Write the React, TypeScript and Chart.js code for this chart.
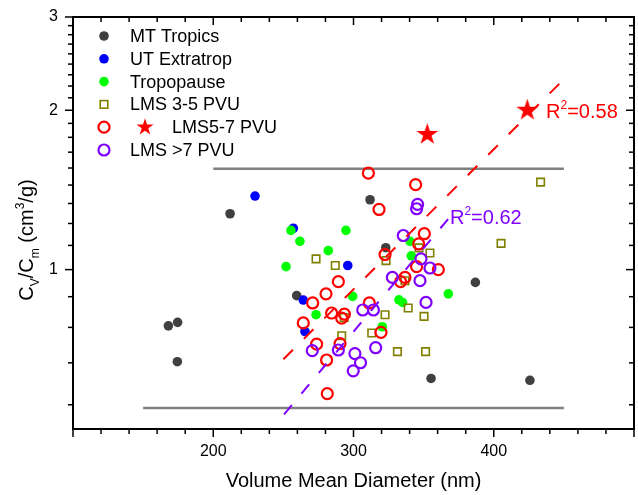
import React, { useEffect, useRef } from 'react';
import { Chart, registerables } from 'chart.js';

Chart.register(...registerables);

const FONT = '"Liberation Sans", Arial, Helvetica, sans-serif';

// ---------------- data ----------------
const mtTropicsX = [168, 174.6, 174.4, 212, 259.5, 311.8, 323, 355.3, 386.9, 425.8];
const mtTropicsY = [0.783, 0.795, 0.67, 1.275, 0.893, 1.355, 1.1, 0.623, 0.946, 0.618];

const utExtraX = [229.8, 257.1, 295.9, 264.2, 265.4];
const utExtraY = [1.377, 1.197, 1.018, 0.876, 0.764];

const tropoX = [255.4, 261.8, 251.9, 282, 294.6, 340.3, 341.2, 367.6, 299.4, 332.4, 335, 320.5, 273.3];
const tropoY = [1.186, 1.131, 1.013, 1.086, 1.186, 1.131, 1.062, 0.9, 0.89, 0.877, 0.867, 0.78, 0.822];

const lms35X = [273.3, 287, 323.2, 346.7, 354.5, 336.7, 433.4, 405.2, 339, 350.3, 322.5, 293.4, 291.6, 313, 331.3, 351.4];
const lms35Y = [1.048, 1.018, 1.04, 1.099, 1.075, 0.953, 1.463, 1.121, 0.846, 0.816, 0.822, 0.812, 0.75, 0.759, 0.7, 0.7];

const lms57X = [310.6, 344.3, 318.2, 350.5, 346.5, 322.5, 345, 360.5, 336.7, 333.6, 289.2, 280.4, 270.9, 311.3, 284.4, 293.5, 291.6, 264.2, 273.7, 290.4, 280.8, 319.6, 281.3];
const lms57Y = [1.522, 1.447, 1.299, 1.169, 1.118, 1.068, 1.013, 1.0, 0.967, 0.949, 0.949, 0.9, 0.865, 0.865, 0.828, 0.824, 0.81, 0.793, 0.723, 0.725, 0.675, 0.761, 0.583];

const lms57StarX = [352.6, 423.9];
const lms57StarY = [1.8, 2.0];

const lms7X = [345.7, 345, 335.5, 348.1, 354.5, 327.7, 347.4, 351.7, 306.6, 314.2, 315.8, 289.2, 301, 305, 299.8, 270.6];
const lms7Y = [1.328, 1.303, 1.16, 1.048, 1.007, 0.967, 0.953, 0.867, 0.839, 0.839, 0.712, 0.705, 0.694, 0.667, 0.644, 0.703];

// fit lines (end points)
const fit57X = [250, 447];
const fit57Y = [0.677, 2.247];
const fit7X = [250.5, 368];
const fit7Y = [0.533, 1.251];

// grey reference lines
const refUpperX = [200, 450];
const refUpperY = [1.55, 1.55];
const refLowerX = [150, 450];
const refLowerY = [0.548, 0.548];

// fit annotations: [x, y(baseline), text value]
const r2Labels = [
  { x: 437.3, y: 1.932, text: '=0.58', color: '#ff0000' },
  { x: 368.8, y: 1.222, text: '=0.62', color: '#7f00ff' },
];

const seriesNames = ['MT Tropics', 'UT Extratrop', 'Tropopause', 'LMS 3-5 PVU', 'LMS5-7 PVU', 'LMS >7 PVU'];

// ticks
const xTickValues = [100, 120, 140, 160, 180, 200, 220, 240, 260, 280, 300, 320, 340, 360, 380, 400, 420, 440, 460, 480, 500];
const xTickLabels = [200, 300, 400];
const yMajorTicks = [1, 2, 3];
const yMinorTicks = [5 / 9, 6 / 9, 7 / 9, 8 / 9, 10 / 9, 11 / 9, 12 / 9, 13 / 9, 14 / 9, 15 / 9, 16 / 9, 17 / 9,
  19 / 9, 20 / 9, 21 / 9, 22 / 9, 23 / 9, 24 / 9, 25 / 9, 26 / 9];

const toPts = (xs: number[], ys: number[]) => xs.map((x, i) => ({ x, y: ys[i] }));

const C_DARK = '#404040';
const C_BLUE = '#0000ff';
const C_GREEN = '#00ff00';
const C_OLIVE = '#808000';
const C_RED = '#ff0000';
const C_PURPLE = '#7f00ff';

function starPath(ctx: CanvasRenderingContext2D, cx: number, cy: number, R: number) {
  ctx.beginPath();
  for (let i = 0; i < 10; i++) {
    const r = i % 2 === 0 ? R : R * 0.382;
    const a = -Math.PI / 2 + (i * Math.PI) / 5;
    const px = cx + r * Math.cos(a);
    const py = cy + r * Math.sin(a);
    if (i === 0) ctx.moveTo(px, py);
    else ctx.lineTo(px, py);
  }
  ctx.closePath();
}

function makeStar(R: number, color: string) {
  const c = document.createElement('canvas');
  const s = Math.ceil(R * 2 + 2);
  c.width = s;
  c.height = s;
  const g = c.getContext('2d')!;
  starPath(g, s / 2, s / 2, R);
  g.fillStyle = color;
  g.fill();
  return c;
}

const decorPlugin = {
  id: 'decor',
  afterDraw(chart: any) {
    const { ctx, chartArea: a, scales } = chart;
    const xs = scales.x;
    const ys = scales.y;
    ctx.save();
    ctx.strokeStyle = '#000';
    ctx.lineWidth = 1.5;
    const line = (x1: number, y1: number, x2: number, y2: number) => {
      ctx.beginPath();
      ctx.moveTo(x1, y1);
      ctx.lineTo(x2, y2);
      ctx.stroke();
    };
    for (const v of xTickValues) {
      const px = xs.getPixelForValue(v);
      const L = v % 100 === 0 ? 8 : 5;
      line(px, a.bottom, px, a.bottom + L);
      line(px, a.top, px, a.top + L);
    }
    const yAll = [...yMajorTicks.map((v) => [v, 8]), ...yMinorTicks.map((v) => [v, 5])];
    for (const [v, L] of yAll) {
      const py = ys.getPixelForValue(v);
      line(a.left - L, py, a.left, py);
      line(a.right - L, py, a.right, py);
    }
    ctx.lineWidth = 2;
    ctx.strokeRect(a.left, a.top, a.right - a.left, a.bottom - a.top);

    // legend
    const lx = a.left + 31;
    const tx = a.left + 57;
    const ly0 = a.top + 19;
    const dy = 22.8;
    ctx.font = `18px ${FONT}`;
    ctx.textBaseline = 'middle';
    ctx.textAlign = 'left';
    ctx.fillStyle = '#000';
    seriesNames.forEach((name, i) => {
      const y = ly0 + i * dy;
      if (i <= 2) {
        ctx.beginPath();
        ctx.arc(lx, y, 4.8, 0, Math.PI * 2);
        ctx.fillStyle = [C_DARK, C_BLUE, C_GREEN][i];
        ctx.fill();
      } else if (i === 3) {
        ctx.strokeStyle = C_OLIVE;
        ctx.lineWidth = 1.6;
        ctx.strokeRect(lx - 3.8, y - 3.8, 7.6, 7.6);
      } else {
        ctx.beginPath();
        ctx.arc(lx, y, 5.5, 0, Math.PI * 2);
        ctx.strokeStyle = i === 4 ? C_RED : C_PURPLE;
        ctx.lineWidth = 2.2;
        ctx.stroke();
      }
      let textX = tx;
      if (i === 4) {
        starPath(ctx, a.left + 72, y, 9);
        ctx.fillStyle = C_RED;
        ctx.fill();
        textX = a.left + 99;
      }
      ctx.fillStyle = '#000';
      ctx.fillText(name, textX, y + 1);
    });

    // R^2 labels
    ctx.textBaseline = 'alphabetic';
    for (const lab of r2Labels) {
      const px = xs.getPixelForValue(lab.x);
      const py = ys.getPixelForValue(lab.y);
      ctx.fillStyle = lab.color;
      ctx.font = `20px ${FONT}`;
      ctx.fillText('R', px, py);
      const wR = ctx.measureText('R').width;
      ctx.font = `12px ${FONT}`;
      ctx.fillText('2', px + wR, py - 9);
      const w2 = ctx.measureText('2').width;
      ctx.font = `20px ${FONT}`;
      ctx.fillText(lab.text, px + wR + w2, py);
    }

    // y axis title with sub/superscripts
    const segs = [
      { t: 'C', s: 20, d: 0 },
      { t: 'V', s: 12, d: 6 },
      { t: '/C', s: 20, d: 0 },
      { t: 'm', s: 12, d: 6 },
      { t: ' (cm', s: 20, d: 0 },
      { t: '3', s: 12, d: -9 },
      { t: '/g)', s: 20, d: 0 },
    ];
    let total = 0;
    for (const sg of segs) {
      ctx.font = `${sg.s}px ${FONT}`;
      total += ctx.measureText(sg.t).width;
    }
    ctx.translate(33, 240);
    ctx.rotate(-Math.PI / 2);
    ctx.fillStyle = '#000';
    let u = -total / 2;
    for (const sg of segs) {
      ctx.font = `${sg.s}px ${FONT}`;
      ctx.fillText(sg.t, u, sg.d);
      u += ctx.measureText(sg.t).width;
    }
    ctx.restore();
  },
};

const zeroPad = (s: any) => {
  s.paddingTop = 0;
  s.paddingBottom = 0;
  s.paddingLeft = 0;
  s.paddingRight = 0;
};

export default function App() {
  const ref = useRef<HTMLCanvasElement>(null);

  useEffect(() => {
    const canvas = ref.current;
    if (!canvas) return;
    const star = makeStar(11.5, C_RED);
    const chart = new Chart(canvas, {
      type: 'scatter',
      data: {
        datasets: [
          {
            label: 'upper ref', data: toPts(refUpperX, refUpperY), showLine: true, borderColor: '#808080',
            borderWidth: 2.5, pointRadius: 0, order: 10,
          },
          {
            label: 'lower ref', data: toPts(refLowerX, refLowerY), showLine: true, borderColor: '#808080',
            borderWidth: 2.5, pointRadius: 0, order: 10,
          },
          {
            label: seriesNames[0], data: toPts(mtTropicsX, mtTropicsY), backgroundColor: C_DARK,
            borderWidth: 0, pointRadius: 4.8, order: 9,
          },
          {
            label: seriesNames[1], data: toPts(utExtraX, utExtraY), backgroundColor: C_BLUE,
            borderWidth: 0, pointRadius: 4.8, order: 8,
          },
          {
            label: seriesNames[2], data: toPts(tropoX, tropoY), backgroundColor: C_GREEN,
            borderWidth: 0, pointRadius: 4.8, order: 7,
          },
          {
            label: seriesNames[3], data: toPts(lms35X, lms35Y), pointStyle: 'rect', backgroundColor: 'rgba(0,0,0,0)',
            borderColor: C_OLIVE, borderWidth: 1.6, pointRadius: 5.3, order: 6,
          },
          {
            label: seriesNames[4], data: toPts(lms57X, lms57Y), backgroundColor: 'rgba(0,0,0,0)',
            borderColor: C_RED, borderWidth: 2.2, pointRadius: 5.5, order: 5,
          },
          {
            label: seriesNames[5], data: toPts(lms7X, lms7Y), backgroundColor: 'rgba(0,0,0,0)',
            borderColor: C_PURPLE, borderWidth: 2.2, pointRadius: 5.5, order: 4,
          },
          {
            label: seriesNames[4] + ' (star)', data: toPts(lms57StarX, lms57StarY), pointStyle: star,
            pointRadius: 11, order: 3,
          },
          {
            label: 'fit LMS5-7', data: toPts(fit57X, fit57Y), showLine: true, borderColor: C_RED,
            borderWidth: 2, borderDash: [13.5, 15.45], pointRadius: 0, order: 1,
          },
          {
            label: 'fit LMS>7', data: toPts(fit7X, fit7Y), showLine: true, borderColor: C_PURPLE,
            borderWidth: 2, borderDash: [12, 15], pointRadius: 0, order: 1,
          },
        ],
      },
      options: {
        animation: false,
        responsive: false,
        devicePixelRatio: 1,
        layout: { autoPadding: false, padding: { top: 17, right: 4, left: 0, bottom: 0 } },
        plugins: { legend: { display: false }, tooltip: { enabled: false } },
        scales: {
          x: {
            type: 'linear',
            min: 100,
            max: 500,
            afterBuildTicks: (s: any) => {
              s.ticks = xTickValues.map((v) => ({ value: v }));
            },
            afterFit: (s: any) => {
              s.height = 66;
              zeroPad(s);
            },
            ticks: {
              autoSkip: false,
              maxRotation: 0,
              padding: 13,
              color: '#000',
              font: { family: FONT, size: 16 },
              callback: (v: any) => (xTickLabels.includes(Number(v)) ? String(v) : ''),
            },
            grid: { display: false, drawTicks: false },
            border: { display: false },
            title: {
              display: true,
              text: 'Volume Mean Diameter (nm)',
              color: '#000',
              font: { family: FONT, size: 20 },
              padding: { top: 0, bottom: 2 },
            },
          },
          y: {
            type: 'logarithmic',
            min: 0.5,
            max: 3,
            afterBuildTicks: (s: any) => {
              s.ticks = [...yMinorTicks, ...yMajorTicks].sort((p, q) => p - q).map((v) => ({ value: v }));
            },
            afterFit: (s: any) => {
              s.width = 73;
              zeroPad(s);
            },
            ticks: {
              autoSkip: false,
              padding: 15,
              color: '#000',
              font: { family: FONT, size: 16 },
              callback: (v: any) => (yMajorTicks.includes(Number(v)) ? String(v) : ''),
            },
            grid: { display: false, drawTicks: false },
            border: { display: false },
          },
        },
      },
      plugins: [decorPlugin],
    } as any);
    return () => chart.destroy();
  }, []);

  return (
    <div style={{ position: 'absolute', left: 0, top: 0, width: 638, height: 495, background: '#fff' }}>
      <canvas ref={ref} width={638} height={495} style={{ display: 'block', width: 638, height: 495 }} />
    </div>
  );
}
